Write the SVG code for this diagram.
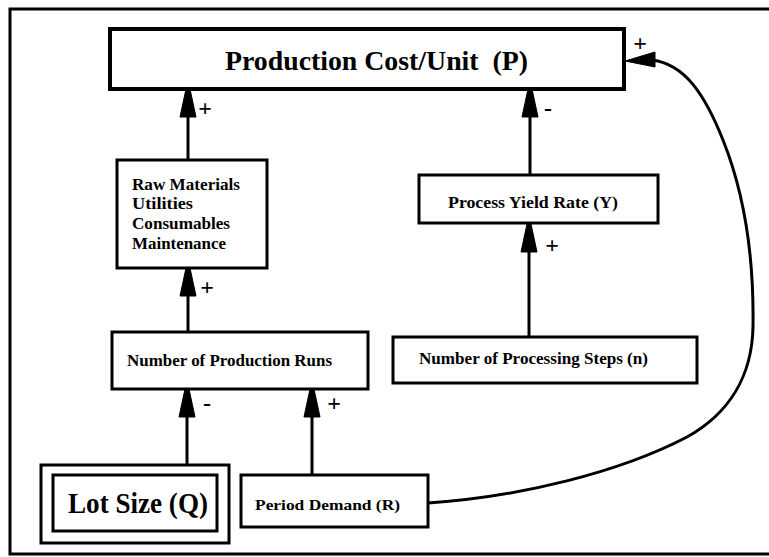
<svg xmlns="http://www.w3.org/2000/svg" width="769" height="557" viewBox="0 0 769 557">
  <style>
    .box { fill: #fff; stroke: #000; stroke-width: 3; }
    .thick { stroke-width: 4; }
    .lbl { font-family: "Liberation Serif", "Times New Roman", serif; font-weight: bold; fill: #000; }
    .sign { font-family: "Liberation Serif", "Times New Roman", serif; font-weight: bold; font-size: 24px; fill: #000; text-anchor: middle; }
    .wire { fill: none; stroke: #000; stroke-width: 3; }
    .head { fill: #000; stroke: #000; stroke-width: 1; stroke-linejoin: round; }
  </style>
  <defs>
    <!-- upward arrowhead, tip at (0,0) -->
    <polygon id="up" class="head" points="-2,0 2,0 8,28 -8,28"/>
  </defs>

  <rect width="769" height="557" fill="#fff"/>
  <!-- outer frame -->
  <path d="M769,9 H10 V554 H769" fill="none" stroke="#000" stroke-width="3"/>

  <g id="connectors">
    <!-- Raw Materials -> Production Cost -->
    <line class="wire" x1="188" y1="110" x2="188" y2="160"/>
    <use href="#up" x="188" y="89"/>
    <text class="sign" x="205" y="116">+</text>
    <!-- Process Yield -> Production Cost -->
    <line class="wire" x1="530" y1="110" x2="530" y2="175"/>
    <use href="#up" x="530" y="89"/>
    <text class="sign" x="548" y="116">-</text>
    <!-- Production Runs -> Raw Materials -->
    <line class="wire" x1="188" y1="290" x2="188" y2="332"/>
    <use href="#up" x="188" y="268"/>
    <text class="sign" x="207" y="295">+</text>
    <!-- Processing Steps -> Process Yield -->
    <line class="wire" x1="529" y1="245" x2="529" y2="337"/>
    <use href="#up" x="529" y="224"/>
    <text class="sign" x="552" y="253">+</text>
    <!-- Lot Size -> Production Runs -->
    <line class="wire" x1="187" y1="410" x2="187" y2="465"/>
    <use href="#up" x="187" y="389"/>
    <text class="sign" x="207" y="411">-</text>
    <!-- Period Demand -> Production Runs -->
    <line class="wire" x1="312" y1="410" x2="312" y2="475"/>
    <use href="#up" x="312" y="389"/>
    <text class="sign" x="334" y="411">+</text>
    <!-- Period Demand -> Production Cost (loop round the right) -->
    <path class="wire" d="M428,503 C520,497 620,472 687,437 C730,413 752,375 753,327 C754,260 745,195 723,140 C705,95 685,64 652,60"/>
    <polygon class="head" points="625,61 655,52 655,67"/>
    <text class="sign" x="640" y="51">+</text>
  </g>

  <g id="production-cost">
    <rect class="box thick" x="110" y="29" width="514" height="60"/>
    <text class="lbl" x="225" y="70" font-size="28" textLength="303" lengthAdjust="spacingAndGlyphs" xml:space="preserve">Production Cost/Unit  (P)</text>
  </g>

  <g id="cost-items">
    <rect class="box" x="117" y="160" width="150" height="108"/>
    <text class="lbl" font-size="16">
      <tspan x="132" y="190" textLength="108" lengthAdjust="spacingAndGlyphs">Raw Materials</tspan>
      <tspan x="132" y="209" textLength="61" lengthAdjust="spacingAndGlyphs">Utilities</tspan>
      <tspan x="132" y="229" textLength="98" lengthAdjust="spacingAndGlyphs">Consumables</tspan>
      <tspan x="132" y="249" textLength="94" lengthAdjust="spacingAndGlyphs">Maintenance</tspan>
    </text>
  </g>

  <g id="process-yield">
    <rect class="box" x="419" y="175" width="239" height="48"/>
    <text class="lbl" x="448" y="208" font-size="16" textLength="170" lengthAdjust="spacingAndGlyphs">Process Yield Rate (Y)</text>
  </g>

  <g id="production-runs">
    <rect class="box" x="112" y="332" width="256" height="57"/>
    <text class="lbl" x="127" y="366" font-size="16" textLength="205" lengthAdjust="spacingAndGlyphs">Number of Production Runs</text>
  </g>

  <g id="processing-steps">
    <rect class="box" x="393" y="337" width="304" height="46"/>
    <text class="lbl" x="419" y="364" font-size="16" textLength="229" lengthAdjust="spacingAndGlyphs">Number of Processing Steps (n)</text>
  </g>

  <g id="lot-size">
    <rect class="box" x="41" y="465" width="188" height="78" stroke-width="5"/>
    <rect class="box" x="53" y="475" width="164" height="56" stroke-width="5"/>
    <text class="lbl" x="68" y="513" font-size="30" textLength="140" lengthAdjust="spacingAndGlyphs">Lot Size (Q)</text>
  </g>

  <g id="period-demand">
    <rect class="box" x="241" y="475" width="187" height="52"/>
    <text class="lbl" x="255" y="510" font-size="15" textLength="145" lengthAdjust="spacingAndGlyphs">Period Demand (R)</text>
  </g>
</svg>
